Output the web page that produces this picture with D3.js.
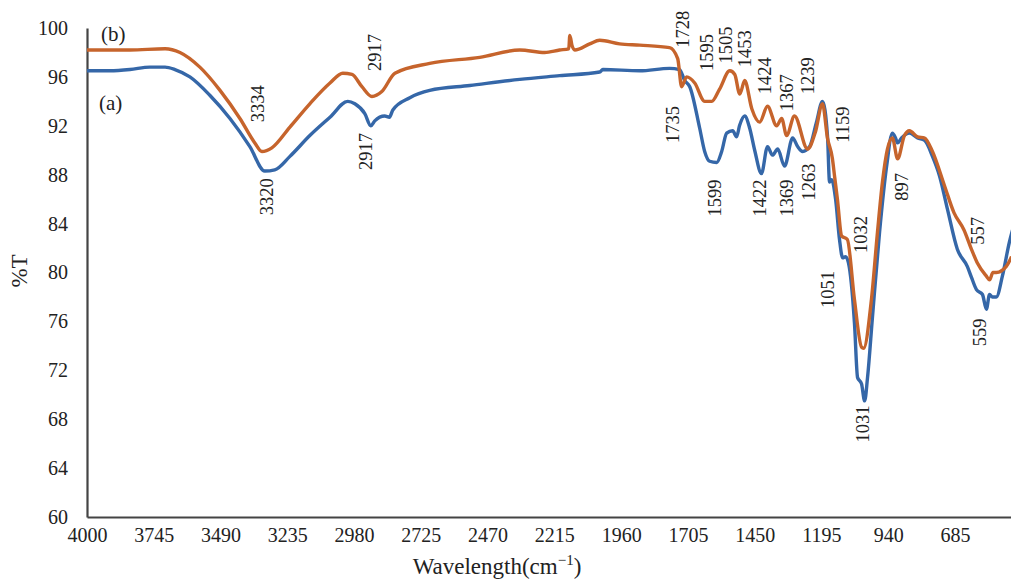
<!DOCTYPE html>
<html>
<head>
<meta charset="utf-8">
<script src="https://cdn.jsdelivr.net/npm/d3@7/dist/d3.min.js"></script>
<style>
  html, body { margin: 0; padding: 0; background: #fff; }
  svg { display: block; }
  text { font-family: "Liberation Serif", "Times New Roman", serif; fill: #222; }
  .peak { font-size: 18.5px; }
</style>
</head>
<body>
<svg id="chart" width="1011" height="581"></svg>
<script>
// FTIR spectra: wavenumber (cm^-1) and transmittance (%T)
const seriesA_wavenumber = [4000, 3912, 3836, 3760, 3702, 3664, 3607, 3531, 3454, 3378, 3321, 3283, 3225, 3149, 3072, 3004, 2977, 2939, 2916, 2901, 2863, 2845, 2832, 2767, 2691, 2538, 2347, 2195, 2042, 2030, 1889, 1775, 1737,
  1717, 1698, 1660, 1641, 1622, 1595, 1576, 1557, 1534, 1519, 1508, 1488, 1469, 1450, 1424, 1401, 1382, 1362, 1336, 1305, 1286, 1267, 1240, 1214, 1191, 1172, 1164, 1156, 1141, 1126, 1114, 1103, 1092, 1069, 1057, 1042, 1030, 1019, 1000, 973, 946, 924, 912, 904, 889, 859, 828, 801, 771, 744, 714, 676, 638, 622, 603, 580, 565, 553, 542, 527, 504, 477, 458];
const seriesA_value = [96.5, 96.5, 96.6, 96.8, 96.8, 96.6, 96.0, 94.5, 92.6, 90.3, 88.3, 88.4, 89.5, 91.2, 92.7, 94.0, 93.8, 93.0, 92.0, 92.4, 92.8, 92.7, 93.3, 94.3, 94.9, 95.3, 95.8, 96.1, 96.4, 96.6, 96.5, 96.7, 96.6,
  95.7, 95.2, 91.8, 89.9, 89.1, 89.0, 89.9, 91.4, 91.6, 91.1, 92.0, 92.8, 91.8, 90.0, 88.1, 90.3, 89.6, 90.1, 88.7, 91.0, 90.3, 89.9, 90.3, 92.3, 94.0, 91.2, 87.4, 87.6, 86.0, 82.7, 81.2, 81.3, 80.8, 75.9, 71.4, 70.9, 69.5, 71.4, 76.4, 83.3, 88.7, 91.4, 91.0, 90.6, 91.0, 91.4, 91.0, 90.8, 89.5, 87.9, 85.2, 81.9, 80.5, 79.6, 78.6, 78.2, 77.0, 78.2, 78.0, 78.0, 79.7, 82.5, 84.0];

const seriesB_wavenumber = [4000, 3836, 3702, 3645, 3569, 3492, 3416, 3359, 3332, 3294, 3225, 3149, 3072, 3023, 2988, 2950, 2912, 2874, 2824, 2691, 2500, 2347, 2252, 2195, 2160, 2156, 2148, 2137, 2080, 2042, 1966, 1889, 1775, 1744,
  1729, 1710, 1679, 1641, 1614, 1584, 1545, 1526, 1507, 1488, 1461, 1431, 1401, 1366, 1347, 1328, 1298, 1248, 1218, 1191, 1172, 1153, 1145, 1134, 1118, 1096, 1069, 1042, 1034, 1004, 981, 962, 943, 924, 904, 878, 859, 828, 801, 771, 725, 689, 651, 622, 600, 565, 553, 540, 527, 489, 469];
const seriesB_value = [98.2, 98.2, 98.3, 98.0, 96.8, 94.9, 92.6, 90.6, 89.9, 90.2, 91.9, 93.8, 95.5, 96.3, 96.2, 95.2, 94.4, 94.8, 96.3, 97.1, 97.6, 98.2, 98.0, 98.2, 98.3, 99.4, 98.6, 98.2, 98.7, 99.0, 98.7, 98.6, 98.4, 97.5,
  95.2, 96.0, 95.5, 94.0, 94.0, 95.0, 96.5, 96.2, 94.6, 95.7, 93.4, 92.3, 93.6, 92.0, 92.6, 91.2, 92.8, 90.1, 91.5, 93.8, 91.0, 89.3, 87.9, 86.0, 83.0, 82.7, 77.8, 73.9, 73.8, 77.8, 83.3, 87.4, 90.1, 91.0, 89.3, 91.2, 91.6, 91.1, 91.0, 89.9, 87.1, 84.9, 83.5, 81.9, 80.8, 79.7, 79.4, 80.0, 80.0, 80.5, 81.3];

const xTickValues = [4000, 3745, 3490, 3235, 2980, 2725, 2470, 2215, 1960, 1705, 1450, 1195, 940, 685];
const yTickValues = [60, 64, 68, 72, 76, 80, 84, 88, 92, 96, 100];

// Peak annotations: label, wavenumber and %T of the label centre
const peakLabel = ["3334", "3320", "2917", "2917", "1728", "1595", "1505", "1453", "1424", "1367", "1239", "1159", "1735", "1599", "1422", "1369", "1263", "1032", "1051", "1031", "897", "557", "559"];
const peakLabelWave = [3347, 3313, 2900, 2934, 1724, 1632, 1560, 1487, 1411, 1327, 1246, 1113, 1762, 1602, 1430, 1327, 1243, 1044, 1170, 1036, 887, 597, 590];
const peakLabelValue = [93.8, 86.2, 98.0, 89.9, 99.9, 98.0, 98.6, 98.3, 96.1, 94.7, 96.1, 92.1, 92.1, 86.1, 86.1, 86.1, 87.4, 83.1, 78.6, 67.6, 87.0, 83.4, 75.1];

const colorA = "#3567a8";
const colorB = "#c6642c";

const svg = d3.select("#chart");
const x = d3.scaleLinear().domain([4000, 400]).range([87, 1029.6]);
const y = d3.scaleLinear().domain([60, 100]).range([517, 28]);

// axes
const xAxis = d3.axisBottom(x).tickValues(xTickValues).tickSize(0).tickPadding(11).tickFormat(d3.format("d"));
const gx = svg.append("g").attr("transform", `translate(0,${y(60)})`).call(xAxis);
gx.select(".domain").attr("stroke", "#444").attr("stroke-width", 2.2);
gx.selectAll(".tick text").attr("font-family", "Liberation Serif, serif").attr("font-size", 20).attr("fill", "#222");

const yAxis = d3.axisLeft(y).tickValues(yTickValues).tickSize(0).tickPadding(19).tickFormat(d3.format("d"));
const gy = svg.append("g").attr("transform", `translate(${x(4000)},0)`).call(yAxis);
gy.select(".domain").attr("stroke", "#444").attr("stroke-width", 2.2);
gy.selectAll(".tick text").attr("font-family", "Liberation Serif, serif").attr("font-size", 20).attr("fill", "#222");

// axis titles
const xt = svg.append("text").attr("x", 497).attr("y", 574).attr("text-anchor", "middle").attr("font-size", 23);
xt.append("tspan").text("Wavelength(cm");
xt.append("tspan").attr("dy", -9).attr("font-size", 15).text("−1");
xt.append("tspan").attr("dy", 9).text(")");
svg.append("text").attr("transform", "translate(27,271) rotate(-90)").attr("text-anchor", "middle").attr("font-size", 23).text("%T");

// spectra
const line = d3.line().x(d => x(d[0])).y(d => y(d[1])).curve(d3.curveMonotoneX);
const dataA = seriesA_wavenumber.map((w, i) => [w, seriesA_value[i]]);
const dataB = seriesB_wavenumber.map((w, i) => [w, seriesB_value[i]]);
svg.append("path").datum(dataA).attr("d", line).attr("fill", "none").attr("stroke", colorA).attr("stroke-width", 3.4).attr("stroke-linejoin", "round");
svg.append("path").datum(dataB).attr("d", line).attr("fill", "none").attr("stroke", colorB).attr("stroke-width", 3.4).attr("stroke-linejoin", "round");

// series names
svg.append("text").attr("x", 101).attr("y", 41).attr("font-size", 21).text("(b)");
svg.append("text").attr("x", 99).attr("y", 110).attr("font-size", 21).text("(a)");

// peak labels
svg.selectAll("text.peak").data(peakLabel).join("text")
  .attr("class", "peak")
  .attr("text-anchor", "middle")
  .attr("dominant-baseline", "central")
  .attr("transform", (d, i) => `translate(${x(peakLabelWave[i])},${y(peakLabelValue[i])}) rotate(-90)`)
  .text(d => d);
</script>
</body>
</html>
